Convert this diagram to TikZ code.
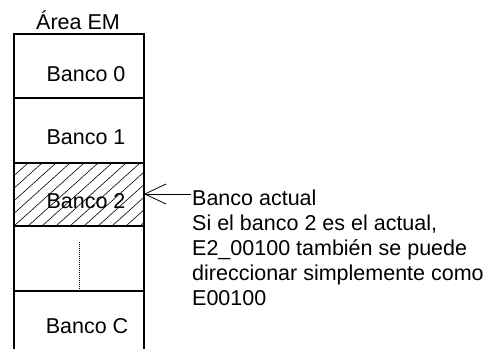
\documentclass[tikz,border=0pt]{standalone}
\usepackage{fontspec}
\setmainfont{Liberation Sans}
\usetikzlibrary{arrows.meta}
\begin{document}
\begin{tikzpicture}[x=1pt,y=-1pt,
  lbl/.style={anchor=base,font=\fontsize{21.5}{25}\selectfont,inner sep=0pt},
  box/.style={line width=1.3pt},
  note/.style={anchor=base west,font=\fontsize{21.5}{25}\selectfont,inner sep=0pt}]
\useasboundingbox (0,0) rectangle (491,349);
% hatching
\begin{scope}
\clip (14,163) rectangle (144,226);
\foreach \i in {0,...,16}{
  \draw[line width=0.6pt] ({14+\i*14-70},226) -- ({14+\i*14},163);
}
\end{scope}
% box
\draw[box] (14,349) -- (14,34) -- (144,34) -- (144,349);
\draw[box] (14,98) -- (144,98);
\draw[box] (14,163) -- (144,163);
\draw[box] (14,226) -- (144,226);
\draw[box] (14,291) -- (144,291);
\coordinate (d1) at (79,242);
\coordinate (d2) at (79,290);
\draw[densely dotted,line width=1pt] (d1) -- (d2);
% labels
\node[lbl] (area) at (78,29) {Área EM};
\node[lbl] (b0) at (86,81) {Banco 0};
\node[lbl] (b1) at (86,144) {Banco 1};
\node[lbl] (b2) at (86,208) {Banco 2};
\node[lbl] (bc) at (87,333) {Banco C};
\coordinate (tip) at (144,194);
\node[note] (n1) at (192,205) {Banco actual};
\node[note] (n2) at (192,230) {Si el banco 2 es el actual,};
\node[note] (n3) at (192,255) {E2\_00100 también se puede};
\node[note] (n4) at (192,280) {direccionar simplemente como};
\node[note] (n5) at (192,305) {E00100};
\coordinate (start) at (191,194);
\draw[line width=0.8pt,-{Straight Barb[length=21pt,width=20pt,line width=0.8pt]}] (start) -- (tip);
\end{tikzpicture}
\end{document}
